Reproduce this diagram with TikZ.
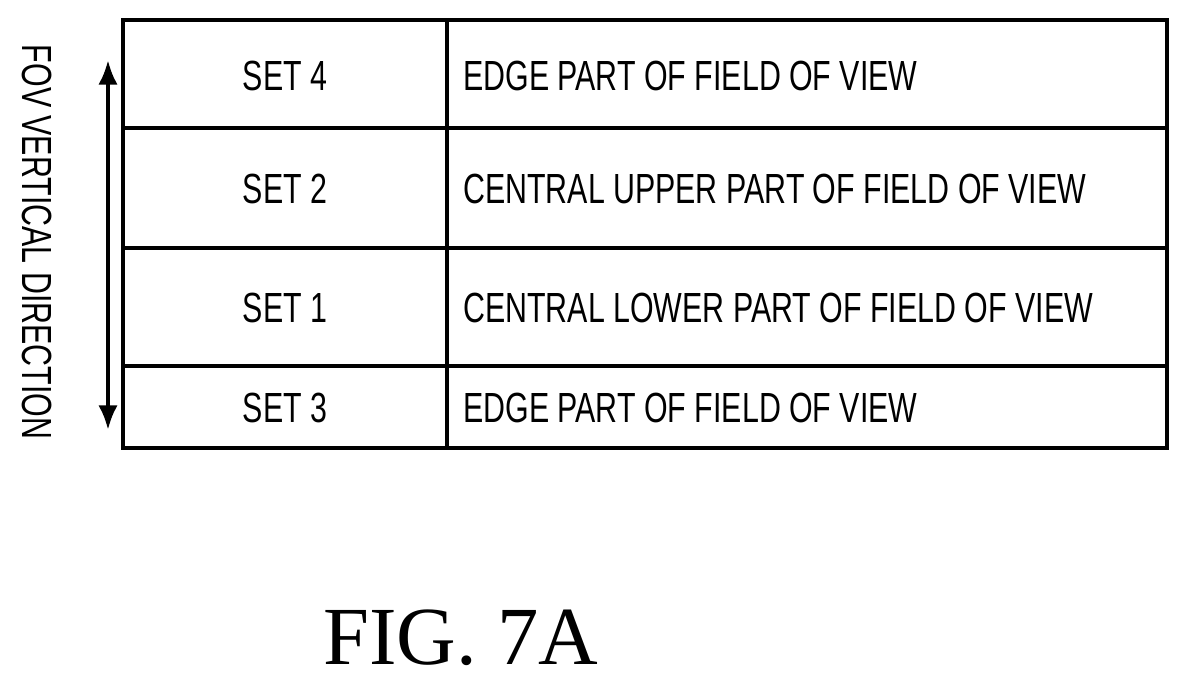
\documentclass[tikz,border=0pt]{standalone}
\usepackage{fontspec}
\setmainfont{Liberation Serif}
\newfontfamily\cond[FakeStretch=0.72]{Liberation Sans}
\usetikzlibrary{arrows.meta}
\begin{document}
\begin{tikzpicture}[x=0.02cm,y=-0.02cm,
  cell/.style={font=\cond\fontsize{24}{28}\selectfont},
  grid/.style={line width=2pt}]
\useasboundingbox (0,0) rectangle (1189,685);
\draw[grid] (123,20) rectangle (1167,448);
\draw[grid] (447,20) -- (447,448);
\foreach \y in {128,248,366} \draw[grid] (123,\y) -- (1167,\y);
\node[cell] (s4) at (285,76) {SET 4};
\node[cell] (s2) at (285,189) {SET 2};
\node[cell] (s1) at (285,308) {SET 1};
\node[cell] (s3) at (285,408) {SET 3};
\node[cell,anchor=west] (d4) at (457,76) {EDGE PART OF FIELD OF VIEW};
\node[cell,anchor=west] (d2) at (457,189) {CENTRAL UPPER PART OF FIELD OF VIEW};
\node[cell,anchor=west] (d1) at (457,308) {CENTRAL LOWER PART OF FIELD OF VIEW};
\node[cell,anchor=west] (d3) at (457,408) {EDGE PART OF FIELD OF VIEW};
\coordinate (at) at (108,60);
\coordinate (ab) at (108,430);
\draw[line width=2.4pt,{Latex[length=14pt,width=11pt]}-{Latex[length=14pt,width=11pt]}] (at) -- (ab);
\node[cell,rotate=-90] (fov) at (37,242) {FOV VERTICAL DIRECTION};
\node[font=\fontsize{47}{52}\selectfont] (fig) at (461,638) {FIG. 7A};
\end{tikzpicture}
\end{document}
